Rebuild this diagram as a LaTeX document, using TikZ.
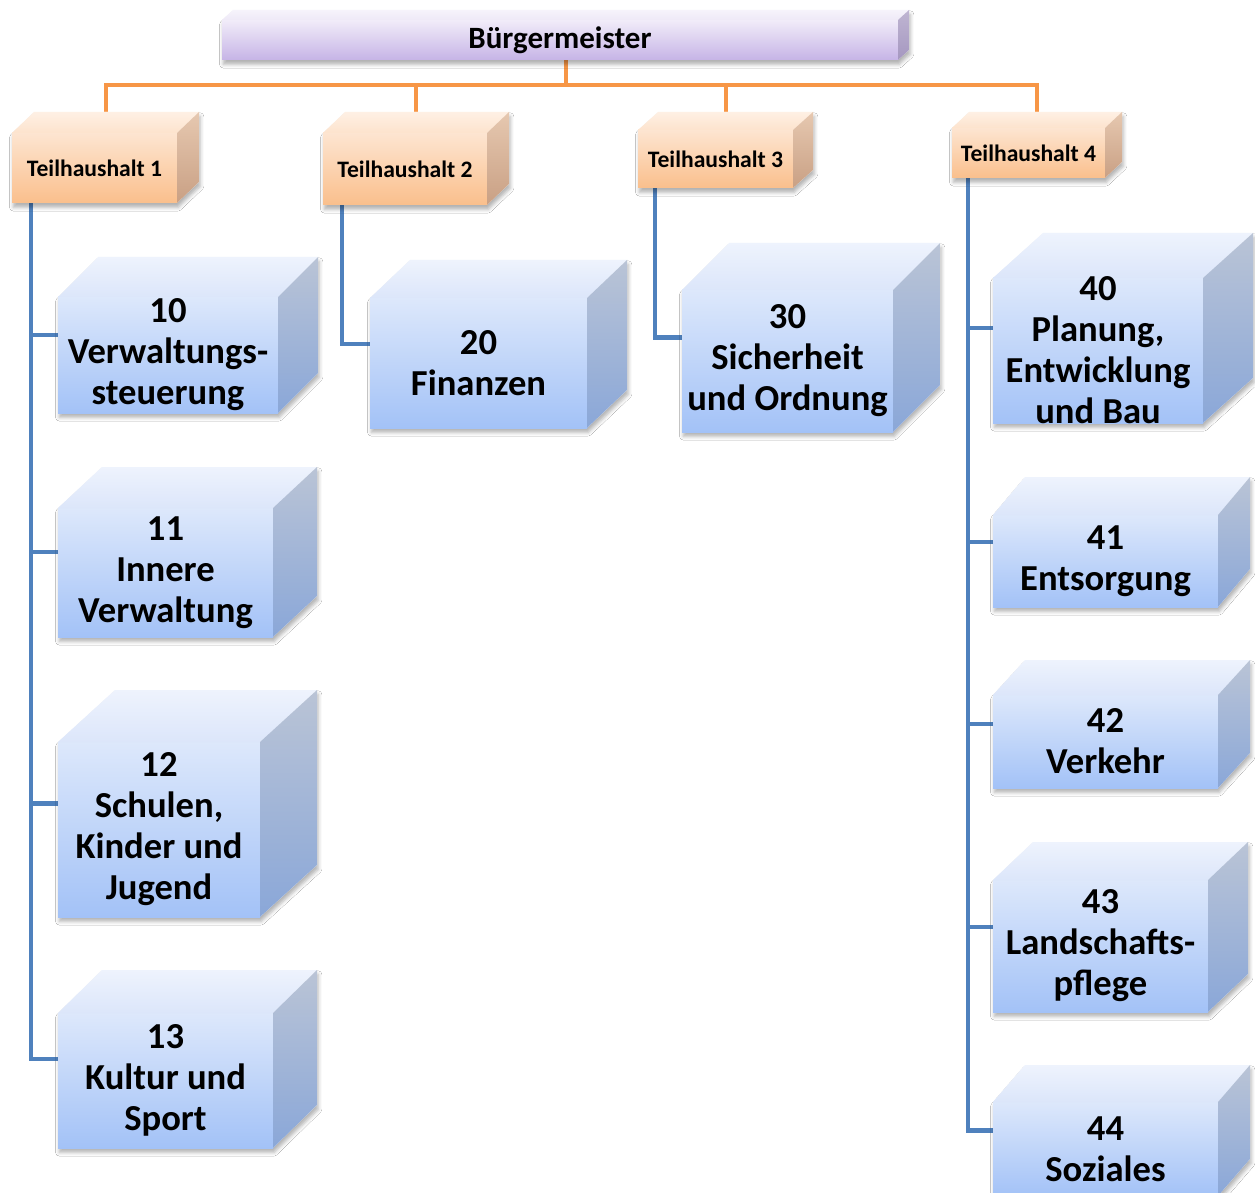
\documentclass[tikz,border=0pt]{standalone}
\usepackage{fontspec}
\setmainfont{Carlito}
\usetikzlibrary{calc,shadows.blur}
\pgfdeclarelayer{bg}
\pgfsetlayers{bg,main}

\definecolor{blF1}{HTML}{DDE8FB}
\definecolor{blF2}{HTML}{A3C2F7}
\definecolor{blT1}{HTML}{EEF3FD}
\definecolor{blT2}{HTML}{DCE6FA}
\definecolor{blS1}{HTML}{BAC4D6}
\definecolor{blS2}{HTML}{8AA7D8}
\definecolor{orF1}{HTML}{FDE5D1}
\definecolor{orF2}{HTML}{FABF8C}
\definecolor{orT1}{HTML}{FEF0E4}
\definecolor{orT2}{HTML}{FDE3CD}
\definecolor{orS1}{HTML}{E6C8B0}
\definecolor{orS2}{HTML}{C9A084}
\definecolor{puF1}{HTML}{F1ECF9}
\definecolor{puF2}{HTML}{C6B4E6}
\definecolor{puT1}{HTML}{F6F3FB}
\definecolor{puT2}{HTML}{EEE9F7}
\definecolor{puS1}{HTML}{BFB5D2}
\definecolor{puS2}{HTML}{A597C0}
\definecolor{orLine}{HTML}{F79646}
\definecolor{blLine}{HTML}{4F81BD}

\tikzset{
  bltext/.style={inner sep=0pt, align=center, text=black,
    font=\fontsize{18.3}{20.5}\selectfont\bfseries},
  ortext/.style={inner sep=0pt, align=center, text=black,
    font=\fontsize{11.8}{14}\selectfont\bfseries},
  putext/.style={inner sep=0pt, align=center, text=black,
    font=\fontsize{15.5}{18}\selectfont\bfseries},
  oline/.style={draw=orLine, line width=2pt, line join=miter},
  bline/.style={draw=blLine, line width=2.3pt, line join=miter},
  boxshadow/.style={fill=white, blur shadow={shadow xshift=0.6pt, shadow yshift=-2.2pt,
    shadow blur radius=1.8pt, shadow opacity=30}}
}

% #1 name, (#2,#3) front top-left, (#4,#5) front bottom-right, #6 depth x, #7 depth y, #8 palette, #9 text
\newcommand\cuboid[9]{%
  \path[boxshadow] (#2,#3) -- (#2+#6,#3-#7) -- (#4+#6,#3-#7) -- (#4+#6,#5-#7) -- (#4,#5) -- (#2,#5) -- cycle;
  \shade[top color=#8F1, bottom color=#8F2] (#2,#3) rectangle (#4,#5);
  \shade[top color=#8T1, bottom color=#8T2] (#2,#3) -- (#2+#6,#3-#7) -- (#4+#6,#3-#7) -- (#4,#3) -- cycle;
  \shade[top color=#8S1, bottom color=#8S2] (#4,#3) -- (#4+#6,#3-#7) -- (#4+#6,#5-#7) -- (#4,#5) -- cycle;
  \coordinate (#1-top) at ({(#2+#4+#6)/2},{#3-#7});
  \coordinate (#1-left) at (#2,{(#3-#7+#5)/2});
  \coordinate (#1-bl) at (#2,#5);
  \coordinate (#1-bot) at ({(#2+#4+#6)/2},#5);
  \node[#8text] (#1) at ({(#2+#4)/2},{(#3+#5)/2}) {#9};
}

\begin{document}
\begin{tikzpicture}[x=0.5pt,y=-0.5pt]
\clip (0,0) rectangle (1255,1193);

% top bar
\cuboid{bm}{222}{20}{898}{60}{11}{10}{pu}{Bürgermeister}

% Teilhaushalte
\cuboid{th1}{12}{133}{177}{203}{22}{21}{or}{Teilhaushalt 1}
\cuboid{th2}{323}{133}{487}{205}{22}{21}{or}{Teilhaushalt 2}
\cuboid{th3}{638}{130}{793}{188}{20}{18}{or}{Teilhaushalt 3}
\cuboid{th4}{952}{128}{1105}{178}{17}{16}{or}{Teilhaushalt 4}

% column 1
\cuboid{b10}{58}{297}{278}{413}{40}{40}{bl}{10\\Verwaltungs-\\steuerung}
\cuboid{b11}{58}{508}{273}{637}{44}{41}{bl}{11\\Innere\\Verwaltung}
\cuboid{b12}{58}{742}{260}{917}{57}{52}{bl}{12\\Schulen,\\Kinder und\\Jugend}
\cuboid{b13}{58}{1013}{273}{1148}{44}{43}{bl}{13\\Kultur und\\Sport}

% column 2, 3
\cuboid{b20}{370}{298}{587}{428}{40}{38}{bl}{20\\Finanzen}
\cuboid{b30}{682}{290}{893}{432}{47}{47}{bl}{30\\Sicherheit\\und Ordnung}

% column 4
\cuboid{b40}{993}{278}{1203}{423}{50}{45}{bl}{40\\Planung,\\Entwicklung\\und Bau}
\cuboid{b41}{993}{515}{1218}{607}{32}{38}{bl}{41\\Entsorgung}
\cuboid{b42}{993}{695}{1218}{788}{32}{35}{bl}{42\\Verkehr}
\cuboid{b43}{993}{880}{1208}{1012}{40}{38}{bl}{43\\Landschafts-\\pflege}
\cuboid{b44}{993}{1102}{1218}{1196}{32}{37}{bl}{44\\Soziales}

\begin{pgfonlayer}{bg}
  \fill[white] (0,0) rectangle (1255,1193);
  % orange bus
  \coordinate (bus) at (0,85);
  \draw[oline] (th1-top) |- (th4-top |- bus) -- (th4-top);
  \draw[oline] (th2-top) -- (th2-top |- bus);
  \draw[oline] (th3-top) -- (th3-top |- bus);
  \draw[oline] (bm-bot) -- (bm-bot |- bus);
  % blue trees
  \draw[bline] ($(th1-bl)+(19,0)$) coordinate (t1) |- (b13-left);
  \foreach \b in {b10,b11,b12} \draw[bline] (t1 |- \b-left) -- (\b-left);
  \draw[bline] ($(th2-bl)+(19,0)$) |- (b20-left);
  \draw[bline] ($(th3-bl)+(17,0)$) |- (b30-left);
  \draw[bline] ($(th4-bl)+(16,0)$) coordinate (t4) |- (b44-left);
  \foreach \b in {b40,b41,b42,b43} \draw[bline] (t4 |- \b-left) -- (\b-left);
\end{pgfonlayer}
\end{tikzpicture}
\end{document}
